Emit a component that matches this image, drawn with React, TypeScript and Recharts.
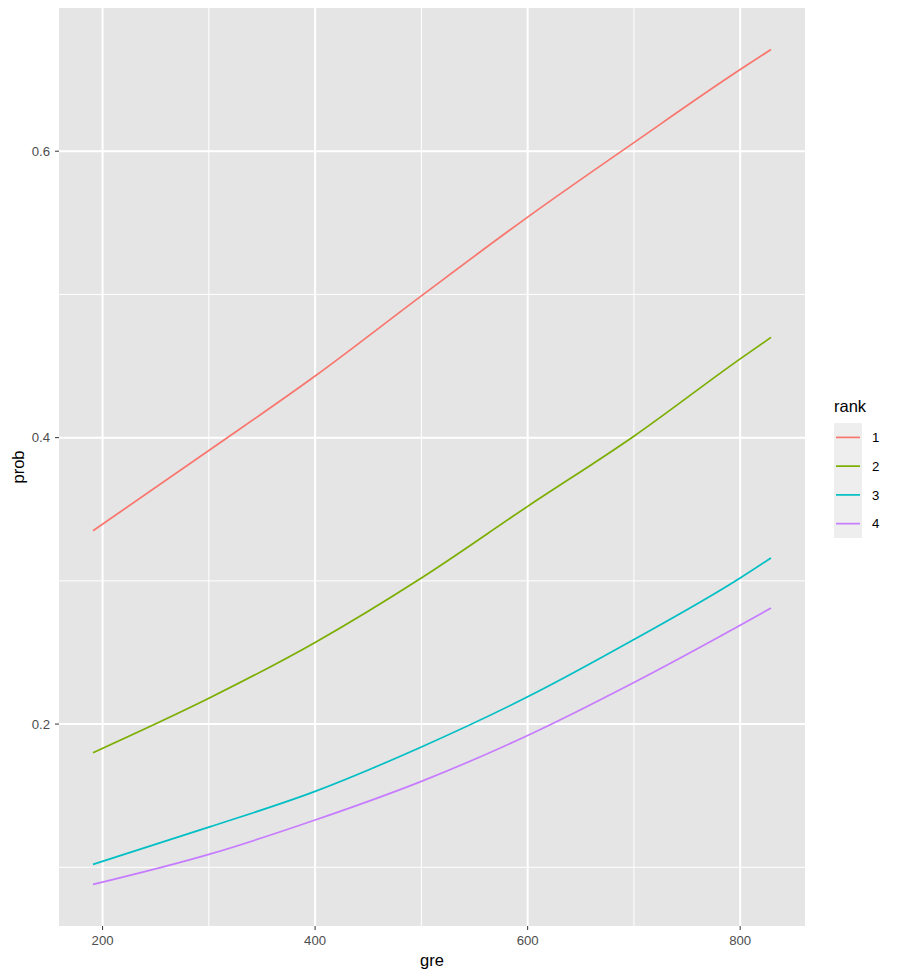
import React from 'react';
import { LineChart, Line, XAxis, YAxis, CartesianGrid, Legend } from 'recharts';

// predicted admission probability by gre, one curve per rank
const gre = [191, 300, 400, 500, 600, 700, 800, 829];
const rank1 = [0.335, 0.391, 0.443, 0.499, 0.554, 0.606, 0.657, 0.671];
const rank2 = [0.18, 0.218, 0.257, 0.302, 0.352, 0.401, 0.455, 0.47];
const rank3 = [0.102, 0.128, 0.153, 0.184, 0.219, 0.259, 0.302, 0.316];
const rank4 = [0.088, 0.109, 0.133, 0.16, 0.192, 0.229, 0.269, 0.281];

const ranks = ['1', '2', '3', '4'];
const colors = ['#F8766D', '#7CAE00', '#00BFC4', '#C77CFF'];

const xTicks = [200, 400, 600, 800];
const xMinor = [300, 500, 700];
const yTicks = [0.2, 0.4, 0.6];
const yMinor = [0.1, 0.3, 0.5];

const data = gre.map((g, i) => ({
  gre: g,
  r1: rank1[i],
  r2: rank2[i],
  r3: rank3[i],
  r4: rank4[i],
}));

const FONT = '"Liberation Sans", Arial, Helvetica, sans-serif';

function RankLegend({ payload }: any) {
  const items = payload || [];
  return (
    <svg width={70} height={160} style={{ fontFamily: FONT, display: 'block' }}>
      <text x={9} y={27} fontSize={16.5} fill="#000">rank</text>
      <rect x={9} y={38} width={28} height={115} fill="#EEEEEE" />
      {items.map((p: any, i: number) => {
        const cy = 38 + 14.4 + i * 28.75;
        return (
          <g key={i}>
            <line x1={11} x2={35} y1={cy} y2={cy} stroke={p.color} strokeWidth={1.7} />
            <text x={47} y={cy + 4.7} fontSize={13.2} fill="#000">{p.value}</text>
          </g>
        );
      })}
    </svg>
  );
}

export default function App() {
  return (
    <div style={{ position: 'absolute', left: 0, top: 0, width: 898, height: 978, background: '#fff' }}>
      <LineChart
        width={898}
        height={978}
        data={data}
        margin={{ top: 8, right: 93, left: 0, bottom: 0 }}
        style={{ fontFamily: FONT }}
      >
        <CartesianGrid
          fill="#E5E5E5"
          stroke="#FFFFFF"
          strokeWidth={1}
          horizontalValues={yMinor}
          verticalValues={xMinor}
        />
        <CartesianGrid
          fill="none"
          stroke="#FFFFFF"
          strokeWidth={2}
          horizontalValues={yTicks}
          verticalValues={xTicks}
        />
        <XAxis
          type="number"
          dataKey="gre"
          domain={[159, 861]}
          allowDataOverflow
          ticks={xTicks}
          tickSize={4}
          tickMargin={6}
          axisLine={false}
          tickLine={{ stroke: '#333333' }}
          tick={{ fill: '#4D4D4D', fontSize: 13.2 }}
          height={52}
          label={{ value: 'gre', position: 'insideBottom', offset: 12, fill: '#000', fontSize: 16.5 }}
        />
        <YAxis
          type="number"
          domain={[0.059, 0.7]}
          allowDataOverflow
          ticks={yTicks}
          tickSize={4}
          tickMargin={5}
          axisLine={false}
          tickLine={{ stroke: '#333333' }}
          tick={{ fill: '#4D4D4D', fontSize: 13.2 }}
          width={59}
          label={{
            value: 'prob',
            angle: -90,
            position: 'insideLeft',
            offset: 18,
            fill: '#000',
            fontSize: 16.5,
            style: { textAnchor: 'middle' },
          }}
        />
        <Legend
          layout="vertical"
          align="center"
          verticalAlign="middle"
          content={<RankLegend />}
          wrapperStyle={{ left: 825, top: 385, width: 70, height: 160 }}
        />
        {ranks.map((r, i) => (
          <Line
            key={r}
            type="monotone"
            dataKey={'r' + r}
            name={r}
            stroke={colors[i]}
            strokeWidth={1.7}
            dot={false}
            activeDot={false}
            isAnimationActive={false}
          />
        ))}
      </LineChart>
    </div>
  );
}
